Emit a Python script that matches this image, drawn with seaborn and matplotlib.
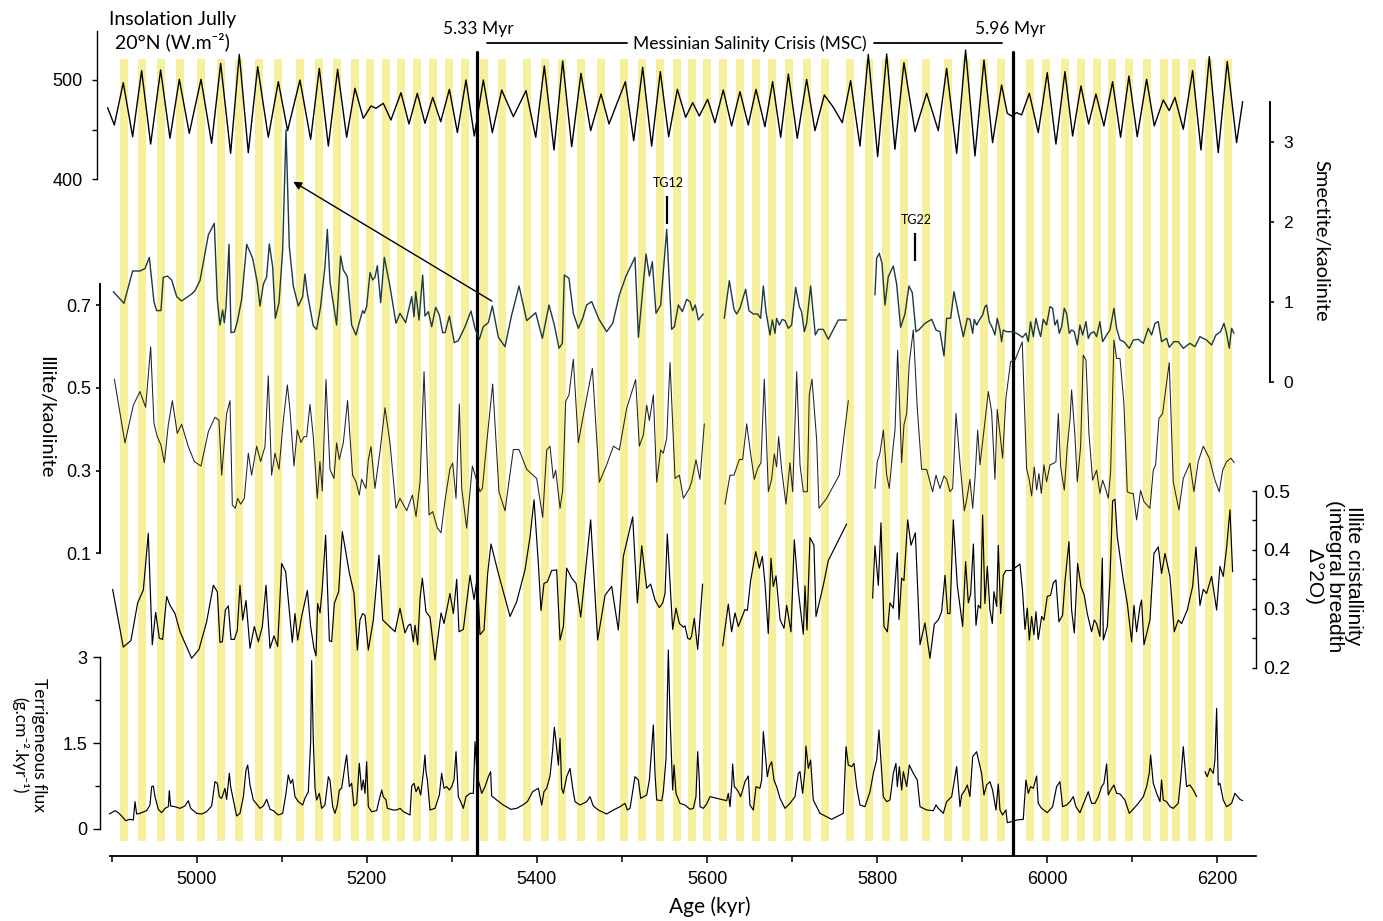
import numpy as np
import pandas as pd
import matplotlib
matplotlib.use("Agg")
import matplotlib.pyplot as plt
from matplotlib.ticker import FixedLocator
from matplotlib.lines import Line2D
import seaborn as sns

nan = np.nan

# ---------------------------------------------------------------- data (ages in kyr)
band_centers = [4914.5, 4935.5, 4957.8, 4980.4, 5005.0, 5028.3, 5049.7, 5073.2, 5095.6, 5121.4,
                5143.8, 5165.0, 5186.3, 5203.7, 5222.2, 5240.4, 5259.0, 5277.8, 5296.6, 5315.4,
                5338.3, 5359.0, 5388.0, 5409.5, 5429.2, 5451.8, 5475.3, 5502.3, 5523.3, 5544.7,
                5564.4, 5582.5, 5600.2, 5619.0, 5638.5, 5657.8, 5676.7, 5696.6, 5717.3, 5738.4,
                5767.8, 5790.6, 5810.1, 5831.3, 5857.2, 5883.0, 5904.2, 5925.4, 5946.0, 5979.4,
                5998.5, 6020.8, 6039.6, 6058.5, 6075.8, 6096.1, 6117.2, 6137.2, 6151.0, 6170.7,
                6190.7, 6212.1]

insol_age = [4895.3, 4903.2, 4913.7, 4924.7, 4935.3, 4945.9, 4957.6, 4968.6, 4979.6, 4991.3,
             5005.1, 5017.6, 5028.2, 5039.9, 5050.1, 5060.7, 5071.7, 5084.2, 5096.0, 5106.9,
             5121.4, 5134.0, 5144.2, 5154.8, 5165.7, 5176.3, 5186.1, 5195.9, 5204.9, 5210.8,
             5219.4, 5228.4, 5240.2, 5249.6, 5259.4, 5268.4, 5277.5, 5286.9, 5297.1, 5306.5,
             5316.6, 5326.4, 5337.0, 5347.6, 5358.6, 5372.3, 5387.2, 5398.6, 5408.7, 5420.1,
             5430.3, 5440.9, 5451.8, 5463.2, 5475.4, 5484.8, 5504.0, 5513.8, 5524.3, 5534.9,
             5545.1, 5554.9, 5565.1, 5574.9, 5583.1, 5590.9, 5600.7, 5609.3, 5619.1, 5628.9,
             5638.7, 5648.5, 5657.6, 5668.1, 5677.1, 5686.6, 5695.6, 5706.1, 5717.1, 5726.9,
             5737.9, 5748.5, 5759.0, 5768.8, 5779.8, 5789.6, 5800.6, 5811.2, 5820.9, 5831.5,
             5844.5, 5858.2, 5871.9, 5881.7, 5893.5, 5904.0, 5915.0, 5925.6, 5935.7, 5946.3,
             5953.0, 5958.1, 5964.0, 5969.8, 5978.9, 5989.4, 6000.0, 6010.2, 6020.8, 6029.8,
             6039.6, 6048.6, 6057.2, 6066.6, 6076.8, 6086.2, 6096.0, 6105.8, 6116.8, 6125.8,
             6136.4, 6143.4, 6150.1, 6159.9, 6170.9, 6180.7, 6190.5, 6201.0, 6211.6, 6222.6,
             6229.7]
insol_val = [472.1, 454.7, 497.3, 442.9, 509.4, 435.5, 510.1, 441.3, 500.7, 446.3,
             500.7, 436.2, 516.8, 426.1, 525.8, 426.8, 513.4, 442.3, 498.3, 449.0,
             500.0, 440.2, 511.7, 433.5, 510.7, 442.3, 491.6, 461.4, 473.8, 471.5,
             476.5, 459.7, 487.2, 455.7, 486.6, 456.4, 482.5, 458.0, 490.6, 447.0,
             500.0, 443.6, 500.0, 447.0, 489.9, 463.1, 489.3, 442.3, 514.1, 429.5,
             519.1, 432.9, 506.7, 449.0, 485.9, 455.7, 498.3, 438.9, 512.8, 433.5,
             508.4, 442.9, 490.6, 462.4, 477.2, 463.7, 480.5, 457.0, 489.9, 453.7,
             488.3, 454.7, 490.6, 453.0, 498.3, 442.3, 506.0, 441.3, 500.7, 449.0,
             484.9, 472.5, 457.0, 499.3, 433.5, 525.8, 422.8, 526.2, 430.2, 517.5,
             448.0, 486.6, 449.0, 511.7, 426.1, 530.2, 423.5, 520.1, 436.9, 495.0,
             466.4, 463.7, 467.1, 464.8, 486.6, 447.0, 507.4, 435.5, 508.4, 443.6,
             494.0, 455.7, 485.9, 453.7, 498.3, 442.3, 504.0, 442.9, 500.7, 453.7,
             479.9, 469.1, 482.5, 450.3, 509.4, 429.5, 523.5, 426.8, 518.5, 436.9,
             478.2]

smect_age = [4902.0, 4914.5, 4924.7, 4933.3, 4939.2, 4944.3, 4949.8, 4952.9, 4958.0, 4960.7,
             4965.5, 4970.6, 4976.5, 4982.3, 4994.1, 4998.0, 5003.9, 5013.7, 5020.7, 5024.3,
             5027.4, 5030.5, 5032.5, 5034.5, 5038.0, 5040.4, 5044.3, 5047.8, 5052.9, 5058.8,
             5065.8, 5071.3, 5074.4, 5078.4, 5082.3, 5085.4, 5089.3, 5092.5, 5096.8, 5101.1,
             5105.0, 5108.9, 5113.6, 5119.5, 5124.6, 5127.3, 5130.1, 5137.1, 5141.0, 5145.7,
             5150.8, 5153.6, 5156.7, 5161.8, 5164.5, 5169.2, 5172.4, 5177.1, 5182.2, 5187.3,
             5192.0, 5195.1, 5197.1, 5199.8, 5203.8, 5206.9, 5209.6, 5212.4, 5216.3, 5220.6,
             5227.3, 5234.3, 5239.0,
             5245.7, 5252.8, 5255.5, 5257.5, 5261.4, 5265.7, 5268.4, 5272.4, 5276.3, 5281.0,
             5285.3, 5289.2, 5292.0, 5297.1, 5302.9, 5307.6, 5315.5, 5322.5, 5327.2, 5332.3,
             5337.0, 5342.9, 5347.6, 5354.7, 5362.5, 5370.3, 5379.0, 5388.0, 5398.6, 5406.4,
             5414.2, 5420.5, 5426.0, 5429.9, 5432.2, 5437.7, 5442.8, 5448.7, 5453.8, 5458.5,
             5464.4, 5473.0, 5482.0, 5489.1, 5496.9, 5504.8, 5515.3, 5519.3, 5528.3, 5532.2,
             5535.7, 5540.0, 5545.5, 5552.6, 5558.4, 5561.6, 5566.3, 5571.0, 5576.1, 5580.0,
             5583.1, 5586.2, 5589.8, 5595.6, nan,
             5620.3, 5626.2, 5631.7, 5634.8, 5638.7, 5645.4, 5649.3, 5654.4, 5659.5, 5663.0,
             5666.2, 5669.3, 5674.0, 5676.8, 5679.9, 5681.8, 5685.0, 5688.5, 5691.7, 5695.6,
             5699.5, 5704.2, 5708.5, 5711.2, 5714.4, 5717.1, 5721.8, 5727.3, 5730.8, 5736.7,
             5742.6, 5754.3, 5764.1, nan,
             5797.4, 5799.4, 5802.5, 5805.7, 5809.2, 5813.1, 5819.0, 5822.9, 5827.6, 5832.7,
             5837.4, 5841.3, 5845.6, 5849.6, 5856.2, 5864.1, 5869.2, 5873.9, 5878.6, 5881.7,
             5886.4, 5890.3, 5895.4, 5901.3, 5906.0, 5909.1, 5912.3, 5914.2, 5917.0, 5920.1,
             5924.0, 5926.7, 5928.7, 5931.8, 5935.7, 5938.5, 5941.2, 5944.4, 5946.3, 5948.3,
             5952.2, 5958.1, 5964.0, 5971.0, 5974.9, 5977.7, 5980.4, 5983.6, 5986.7, 5989.4,
             5992.2, 5995.3, 5999.2, 6003.2, 6006.3, 6009.0, 6011.8, 6014.1, 6016.9, 6020.0,
             6022.7, 6025.9, 6028.6, 6031.8, 6035.3, 6038.4, 6041.6, 6045.5, 6048.2, 6051.0,
             6054.9, 6058.0, 6061.9, 6065.1, 6069.8, 6073.7, 6078.4, 6081.5, 6085.5, 6090.1,
             6096.4, 6101.1, 6107.0, 6112.9, 6118.7, 6122.7, 6126.6, 6130.5, 6134.4, 6140.3,
             6143.4, 6148.9, 6154.0, 6159.9, 6167.7, 6173.6, 6179.5, 6187.3, 6193.2, 6198.3,
             6203.8, 6207.7, 6210.8, 6214.0, 6216.7, 6219.5]
smect_val = [1.130, 0.985, 1.388, 1.388, 1.417, 1.558, 1.006, 0.894, 0.894, 1.309,
             1.325, 1.276, 1.068, 1.014, 1.101, 1.143, 1.268, 1.837, 1.982, 1.026,
             0.714, 0.901, 0.743, 0.943, 1.720, 0.619, 0.627, 0.756, 1.035, 1.720,
             1.546, 1.242, 0.951, 1.222, 1.317, 1.725, 1.442, 0.798, 0.993, 1.650,
             3.146, 1.691, 1.201, 0.951, 1.068, 1.350, 1.109, 0.702, 0.660, 0.943,
             1.442, 1.907, 1.255, 0.901, 0.714, 1.575, 1.400, 1.317, 0.714, 0.590,
             0.777, 0.893, 0.860, 0.943, 1.367, 1.276, 1.309, 1.454, 0.993, 1.558,
             1.193, 0.736, 0.860,
             0.744, 1.068, 0.818, 1.130, 0.777, 1.338, 0.827, 0.881, 0.694, 0.935,
             0.839, 0.619, 0.619, 0.827, 0.494, 0.519, 0.694, 0.889, 0.673, 0.536,
             0.694, 0.744, 0.952, 0.561, 0.444, 0.839, 1.201, 0.769, 0.868, 0.548,
             0.964, 0.714, 0.424, 0.486, 1.338, 1.297, 0.860, 0.673, 0.798, 0.964,
             1.006, 0.785, 0.631, 0.735, 1.089, 1.326, 1.558, 0.561, 1.600, 1.326,
             1.504, 0.860, 0.964, 1.907, 0.660, 0.694, 0.964, 0.881, 1.035, 1.006,
             0.893, 0.964, 0.777, 0.852, nan,
             0.798, 1.267, 0.910, 0.852, 0.923, 1.160, 0.893, 0.852, 0.852, 0.798,
             1.201, 0.881, 0.590, 0.777, 0.611, 0.798, 0.714, 0.785, 0.769, 0.673,
             0.714, 1.184, 0.943, 0.881, 0.631, 0.735, 1.201, 0.590, 0.660, 0.660,
             0.536, 0.777, 0.777, nan,
             1.089, 1.546, 1.608, 1.484, 0.964, 1.317, 1.450, 1.226, 0.685, 0.852,
             1.201, 1.118, 0.631, 0.660, 0.735, 0.785, 0.652, 0.631, 0.328, 0.798,
             0.798, 1.130, 0.860, 0.569, 0.798, 0.785, 0.611, 0.785, 0.714, 0.777,
             0.839, 0.943, 0.964, 0.756, 0.673, 0.590, 0.798, 0.652, 0.507, 0.652,
             0.631, 0.631, 0.611, 0.561, 0.611, 0.507, 0.756, 0.569, 0.798, 0.673,
             0.569, 0.785, 0.714, 0.943, 0.923, 0.714, 0.777, 0.611, 0.694, 0.923,
             0.860, 0.611, 0.652, 0.631, 0.465, 0.714, 0.590, 0.756, 0.548, 0.611,
             0.631, 0.569, 0.756, 0.507, 0.590, 0.652, 0.923, 0.673, 0.527, 0.507,
             0.424, 0.527, 0.536, 0.486, 0.673, 0.590, 0.735, 0.756, 0.507, 0.548,
             0.436, 0.507, 0.507, 0.424, 0.486, 0.444, 0.569, 0.527, 0.465, 0.590,
             0.631, 0.735, 0.611, 0.424, 0.673, 0.611]

illite_age = [4903.2, 4915.7, 4925.5, 4933.3, 4940.0, 4945.9, 4949.8, 4953.7, 4958.0, 4962.0,
              4966.6, 4971.4, 4977.2, 4982.3, 4990.2, 4997.2, 5005.1, 5013.7, 5021.5, 5026.2,
              5029.4, 5035.2, 5039.2, 5041.9, 5045.4, 5048.2, 5051.7, 5056.0, 5060.7, 5064.6,
              5070.5, 5075.2, 5080.3, 5084.2, 5088.1, 5092.1, 5096.8, 5101.9, 5106.6, 5109.7,
              5114.4, 5118.3, 5122.6, 5126.2, 5129.3, 5133.2, 5137.1, 5141.8, 5144.9, 5147.7,
              5152.0, 5156.7, 5161.4, 5164.5, 5167.7, 5172.4, 5177.4, 5183.3, 5187.3, 5191.2,
              5193.9, 5199.0, 5201.8, 5204.9, 5209.6, 5215.5, 5221.4, 5227.3, 5234.3, 5239.0,
              5246.9, 5253.6, 5257.9, 5262.6, 5267.3, 5273.2, 5277.5, 5283.0, 5287.3, 5292.0,
              5297.8, 5301.0, 5304.9, 5308.8, 5311.6, 5317.4, 5324.1, 5328.4, 5333.1, 5335.9,
              5341.7, 5348.0, 5355.4, 5362.5, 5372.3, 5378.9, 5388.0, 5399.7, 5406.8, 5411.5,
              5415.4, 5419.3, 5422.1, 5427.2, 5430.3, 5433.8, 5437.7, 5442.8, 5448.7, 5454.6,
              5465.2, 5473.4, 5482.0, 5489.9, 5496.9, 5505.5, 5516.1, 5520.4, 5525.1, 5529.1,
              5532.2, 5536.9, 5540.8, 5545.5, 5548.6, 5552.6, 5556.5, 5562.4, 5567.5, 5572.2,
              5579.2, 5581.9, 5587.0, 5591.7, 5596.8, nan,
              5621.1, 5627.0, 5631.7, 5638.0, 5641.9, 5646.6, 5651.3, 5655.6, 5659.5, 5663.4,
              5667.3, 5672.1, 5675.9, 5679.1, 5681.8, 5684.2, 5687.7, 5692.8, 5697.5, 5700.7,
              5705.4, 5709.3, 5713.2, 5717.9, 5720.2, 5723.4, 5728.9, 5731.6, 5740.6, 5755.5,
              5766.1, nan,
              5797.4, 5800.2, 5803.3, 5807.3, 5811.2, 5814.3, 5819.0, 5821.0, 5824.1, 5828.8,
              5831.5, 5834.7, 5837.8, 5842.5, 5847.2, 5852.3, 5858.2, 5861.3, 5865.2, 5869.2,
              5873.9, 5878.6, 5881.7, 5885.6, 5888.8, 5892.7, 5897.4, 5902.5, 5905.2, 5909.1,
              5912.3, 5915.0, 5918.2,
              5920.9, 5925.6, 5930.7, 5934.6, 5938.5, 5941.2, 5945.2, 5947.5, 5951.4, 5956.9,
              5962.0, 5966.7, 5970.6, 5975.7, 5978.9, 5981.6, 5984.7, 5987.5, 5990.2, 5993.0,
              5996.1, 5999.2, 6003.2, 6007.9, 6010.2, 6013.0, 6015.7, 6020.0, 6023.5, 6026.7,
              6028.6, 6032.5, 6035.3, 6039.2, 6042.3, 6045.5, 6049.0, 6053.3, 6058.0, 6061.9,
              6065.1, 6069.0, 6071.7, 6074.5, 6078.4, 6081.5, 6085.5, 6090.1, 6094.1, 6098.0,
              6101.1, 6105.0, 6109.7, 6113.7, 6120.7, 6124.6, 6127.4, 6131.3, 6135.6, 6143.4,
              6148.1, 6154.8, 6159.9, 6167.7, 6172.4, 6177.5, 6183.4, 6190.5, 6197.1, 6202.2,
              6206.2, 6210.9, 6216.0, 6219.9]
illite_val = [0.521, 0.367, 0.458, 0.491, 0.453, 0.599, 0.414, 0.382, 0.362, 0.319,
              0.410, 0.469, 0.390, 0.412, 0.358, 0.322, 0.311, 0.394, 0.429, 0.422,
              0.289, 0.438, 0.469, 0.217, 0.209, 0.233, 0.219, 0.233, 0.342, 0.289,
              0.359, 0.322, 0.358, 0.529, 0.289, 0.342, 0.303, 0.422, 0.507, 0.446,
              0.311, 0.398, 0.368, 0.382, 0.382, 0.460, 0.382, 0.233, 0.322, 0.251,
              0.520, 0.303, 0.281, 0.367, 0.327, 0.367, 0.469, 0.289, 0.273, 0.241,
              0.279, 0.257, 0.326, 0.358, 0.257, 0.346, 0.452, 0.366, 0.209, 0.233,
              0.203, 0.241, 0.189, 0.273, 0.539, 0.193, 0.201, 0.161, 0.150, 0.229,
              0.305, 0.318, 0.233, 0.461, 0.257, 0.161, 0.311, 0.281, 0.249, 0.257,
              0.382, 0.509, 0.249, 0.203, 0.351, 0.351, 0.303, 0.281, 0.187, 0.350,
              0.359, 0.281, 0.301, 0.209, 0.253, 0.467, 0.483, 0.569, 0.367, 0.434,
              0.547, 0.272, 0.314, 0.359, 0.350, 0.450, 0.520, 0.359, 0.386, 0.458,
              0.421, 0.483, 0.272, 0.350, 0.342, 0.378, 0.561, 0.281, 0.289, 0.233,
              0.257, 0.273, 0.326, 0.279, 0.413, nan,
              0.219, 0.289, 0.289, 0.327, 0.327, 0.413, 0.340, 0.279, 0.305, 0.319,
              0.521, 0.249, 0.279, 0.340, 0.309, 0.382, 0.303, 0.219, 0.319, 0.249,
              0.539, 0.314, 0.249, 0.249, 0.483, 0.521, 0.374, 0.209, 0.233, 0.289,
              0.469, nan,
              0.257, 0.322, 0.342, 0.398, 0.289, 0.257, 0.362, 0.398, 0.591, 0.319,
              0.410, 0.438, 0.561, 0.640, 0.450, 0.303, 0.303, 0.279, 0.249, 0.289,
              0.257, 0.287, 0.279, 0.249, 0.257, 0.438, 0.319, 0.203, 0.229, 0.279,
              0.209, 0.281, 0.398,
              0.314, 0.398, 0.491, 0.442, 0.279, 0.448, 0.374, 0.330, 0.475, 0.563,
              0.567, 0.591, 0.611, 0.305, 0.277, 0.239, 0.309, 0.253, 0.293, 0.245,
              0.314, 0.273, 0.314, 0.318, 0.322, 0.438, 0.309, 0.253, 0.358, 0.422,
              0.495, 0.386, 0.273, 0.358, 0.579, 0.567, 0.390, 0.277, 0.301, 0.245,
              0.277, 0.253, 0.233, 0.297, 0.615, 0.571, 0.571, 0.462, 0.249, 0.245,
              0.245, 0.181, 0.252, 0.225, 0.209, 0.301, 0.314, 0.426, 0.438, 0.561,
              0.273, 0.205, 0.281, 0.318, 0.249, 0.322, 0.359, 0.330, 0.277, 0.249,
              0.301, 0.322, 0.330, 0.319]

cryst_age = [4901.2, 4913.7, 4922.7, 4930.6, 4937.3, 4943.1, 4947.8, 4951.8, 4956.1, 4960.0,
             4964.7, 4968.6, 4974.5, 4980.4, 4994.1, 5002.7, 5011.7, 5019.6, 5024.3, 5027.4,
             5030.2, 5033.7, 5037.2, 5040.4, 5044.3, 5047.8, 5050.9, 5054.1, 5058.0, 5062.7,
             5067.8, 5072.5, 5077.2, 5081.5, 5086.2, 5090.9, 5095.2, 5099.9, 5104.6, 5112.4,
             5115.6, 5118.7, 5123.4, 5130.1, 5134.0, 5137.9, 5140.3, 5142.2, 5145.0, 5147.7,
             5151.6, 5156.0, 5158.7, 5161.8, 5166.9, 5171.2, 5179.5, 5185.0, 5188.9, 5192.0,
             5195.1, 5197.9, 5201.8, 5207.7, 5214.3, 5218.7, 5233.2, 5239.0,
             5244.9, 5248.9, 5251.6, 5254.7, 5256.7, 5259.8, 5262.6, 5265.3, 5269.6, 5274.3,
             5280.2, 5287.3, 5290.8, 5297.8, 5301.8, 5305.7, 5308.4, 5313.5, 5321.4, 5326.1,
             5330.0, 5333.1, 5337.8, 5342.1, 5346.0, 5354.7, 5360.5, 5368.4, 5376.2, 5386.0,
             5391.9, 5396.6, 5401.7, 5404.8, 5408.3, 5412.3, 5417.4, 5423.2, 5427.2, 5431.1,
             5435.0, 5440.9, 5446.0, 5451.5, 5456.6, 5463.2, 5471.4, 5480.1, 5487.9, 5495.7,
             5501.6, 5512.6, 5518.1, 5523.2, 5529.1, 5533.7, 5538.8, 5543.9, 5547.9, 5550.6,
             5553.3, 5559.6, 5563.5, 5567.5, 5572.2, 5574.1, 5577.3, 5580.0,
             5581.9, 5585.0, 5589.0, 5594.8, nan,
             5618.4, 5625.0, 5628.9, 5632.9, 5636.8, 5641.9, 5644.6, 5647.4, 5651.3, 5657.2,
             5661.5, 5665.0, 5668.1, 5672.0, 5675.2, 5677.9, 5681.1, 5685.8, 5690.5, 5693.6,
             5698.7, 5702.6, 5707.3, 5713.2, 5715.2, 5717.5, 5721.0, 5725.7, 5728.1, 5736.7,
             5742.6, 5764.1, nan,
             5794.7, 5797.4, 5801.4, 5804.5, 5808.0, 5812.0, 5815.1, 5819.0, 5823.7, 5825.7,
             5828.8, 5831.5, 5835.9, 5839.8, 5844.9, 5850.4, 5856.2, 5862.1, 5867.2, 5871.9,
             5875.8, 5879.8, 5882.9, 5885.6, 5889.5, 5894.2, 5900.5, 5904.0, 5907.2, 5909.9,
             5913.1,
             5916.2, 5918.9, 5921.6, 5924.0, 5926.7, 5929.5, 5932.6, 5935.4, 5937.3, 5940.5,
             5942.4, 5945.2, 5948.3, 5951.4, 5958.1, 5967.9, 5971.0, 5973.8, 5976.5, 5978.9,
             5981.6, 5984.3, 5986.7, 5989.4, 5993.4, 5996.1, 6000.0, 6003.9, 6007.1, 6010.2,
             6013.7, 6018.0, 6020.8, 6025.5, 6028.6, 6031.8, 6035.7, 6039.6, 6043.5, 6047.0,
             6052.1, 6055.3, 6058.0, 6061.9, 6064.7, 6065.9, 6070.6, 6073.7, 6076.8, 6079.6,
             6082.3, 6089.4, 6094.1, 6099.2, 6101.9, 6105.0, 6109.0, 6110.9, 6113.7, 6120.7,
             6125.4, 6130.5, 6134.4, 6138.4, 6144.2, 6149.3, 6154.0, 6157.9, 6164.6, 6170.9,
             6174.8, 6179.5, 6183.4, 6187.3, 6193.2, 6199.1, 6203.0, 6206.9, 6210.8, 6214.8,
             6217.9]
cryst_val = [0.333, 0.235, 0.246, 0.310, 0.332, 0.428, 0.239, 0.294, 0.250, 0.248,
             0.321, 0.306, 0.292, 0.261, 0.216, 0.231, 0.278, 0.340, 0.329, 0.243,
             0.244, 0.298, 0.305, 0.248, 0.248, 0.264, 0.340, 0.281, 0.314, 0.233,
             0.270, 0.244, 0.270, 0.340, 0.233, 0.254, 0.236, 0.377, 0.363, 0.243,
             0.292, 0.247, 0.287, 0.331, 0.270, 0.233, 0.220, 0.309, 0.293, 0.336,
             0.425, 0.246, 0.244, 0.309, 0.329, 0.431, 0.361, 0.326, 0.230, 0.281,
             0.292, 0.289, 0.230, 0.281, 0.391, 0.281, 0.261, 0.301,
             0.259, 0.272, 0.274, 0.244, 0.272, 0.239, 0.318, 0.352, 0.295, 0.286,
             0.213, 0.293, 0.275, 0.326, 0.292, 0.350, 0.261, 0.265, 0.357, 0.316,
             0.355, 0.256, 0.264, 0.360, 0.410, 0.360, 0.329, 0.287, 0.312, 0.366,
             0.422, 0.485, 0.377, 0.297, 0.343, 0.346, 0.365, 0.366, 0.247, 0.270,
             0.369, 0.352, 0.343, 0.286, 0.357, 0.451, 0.247, 0.323, 0.338, 0.264,
             0.389, 0.456, 0.310, 0.407, 0.335, 0.342, 0.315, 0.302, 0.310, 0.326,
             0.427, 0.265, 0.301, 0.275, 0.269, 0.271, 0.250, 0.248,
             0.254, 0.284, 0.231, 0.342, nan,
             0.237, 0.308, 0.261, 0.293, 0.270, 0.289, 0.299, 0.297, 0.348, 0.397,
             0.369, 0.389, 0.344, 0.258, 0.386, 0.338, 0.356, 0.282, 0.267, 0.306,
             0.261, 0.417, 0.331, 0.257, 0.339, 0.264, 0.421, 0.408, 0.287, 0.340,
             0.382, 0.444, nan,
             0.318, 0.407, 0.340, 0.446, 0.270, 0.261, 0.310, 0.301, 0.395, 0.282,
             0.352, 0.348, 0.451, 0.408, 0.429, 0.239, 0.276, 0.216, 0.274, 0.281,
             0.295, 0.357, 0.292, 0.292, 0.451, 0.340, 0.270, 0.380, 0.310, 0.325,
             0.410,
             0.272, 0.306, 0.301, 0.459, 0.309, 0.372, 0.298, 0.275, 0.329, 0.304,
             0.408, 0.292, 0.357, 0.365, 0.365, 0.376, 0.329, 0.265, 0.301, 0.247,
             0.287, 0.256, 0.295, 0.248, 0.287, 0.281, 0.321, 0.323, 0.344, 0.349,
             0.278, 0.289, 0.346, 0.414, 0.298, 0.259, 0.377, 0.338, 0.323, 0.292,
             0.261, 0.281, 0.275, 0.253, 0.386, 0.247, 0.270, 0.349, 0.483, 0.486,
             0.422, 0.349, 0.309, 0.244, 0.306, 0.261, 0.304, 0.315, 0.239, 0.281,
             0.394, 0.405, 0.360, 0.394, 0.355, 0.261, 0.281, 0.275, 0.298, 0.338,
             0.405, 0.306, 0.333, 0.326, 0.355, 0.298, 0.372, 0.355, 0.403, 0.468,
             0.363]

flux_age = [4897.3, 4903.9, 4907.9, 4911.8, 4916.5, 4921.6, 4925.5, 4927.5, 4929.4, 4933.3,
            4941.2, 4945.1, 4947.1, 4949.0, 4951.0, 4954.9, 4958.8, 4962.8, 4966.7, 4967.8,
            4969.4, 4974.5, 4980.4, 4986.2, 4990.2, 4992.9, 5000.0, 5005.9, 5011.7, 5017.6,
            5021.5, 5024.3, 5026.6, 5029.4, 5033.3, 5035.2, 5038.4, 5039.9, 5043.1, 5047.0,
            5050.9, 5054.9, 5058.0, 5060.0, 5062.7, 5066.6, 5070.5, 5074.4, 5078.4, 5082.3,
            5086.2, 5090.1, 5096.0, 5101.1, 5105.0, 5107.7, 5110.5, 5112.8, 5115.6, 5119.5,
            5124.6, 5127.3, 5131.3, 5134.0, 5135.2, 5137.1, 5139.1, 5141.0, 5144.2, 5146.9,
            5150.8, 5154.8, 5156.7, 5159.9, 5162.6, 5165.4, 5167.7, 5170.4, 5174.4, 5176.3,
            5179.5, 5182.2, 5184.9, 5188.1, 5191.2, 5193.9, 5195.9, 5197.9, 5199.8, 5201.8,
            5205.7, 5211.6, 5215.5, 5217.5, 5219.4, 5222.6, 5224.2, 5231.2,
            5235.1, 5239.1, 5243.0, 5250.8, 5252.8, 5255.5, 5257.9, 5260.6, 5263.4, 5266.5,
            5268.4, 5269.6, 5271.2, 5274.3, 5280.2, 5285.3, 5288.0, 5290.8, 5293.9, 5297.1,
            5299.8, 5302.5, 5304.9, 5307.6, 5310.4, 5313.5, 5316.6, 5321.4, 5325.3, 5327.2,
            5329.2, 5331.1, 5335.1, 5339.0, 5342.9, 5345.6, 5346.8, 5352.7, 5360.5, 5369.2,
            5376.2, 5383.3, 5388.8, 5395.0, 5401.7, 5405.6, 5408.3, 5411.5, 5415.4, 5418.5,
            5420.5, 5422.5, 5425.2, 5427.2, 5429.1, 5431.1, 5435.0, 5438.9, 5442.1, 5444.8,
            5450.7, 5458.5, 5462.4, 5466.3, 5472.2, 5482.0, 5489.9, 5497.7, 5503.6, 5506.3,
            5509.5, 5515.3, 5519.3, 5522.0, 5529.1, 5532.2, 5536.9, 5538.8, 5540.8, 5546.7,
            5548.6, 5551.8, 5554.5, 5556.5, 5559.6, 5561.2, 5563.5, 5568.2,
            5574.1, 5580.0, 5583.9, 5587.0, 5589.0, 5590.9, 5591.7, 5595.6, 5599.6, 5603.5,
            5623.1, 5625.0, 5627.0, 5628.9, 5630.1, 5632.1, 5634.0, 5636.8, 5639.5, 5641.9,
            5644.6, 5648.5, 5650.5, 5654.4, 5657.6, 5662.2, 5664.2, 5666.2, 5668.1, 5670.9,
            5673.2, 5676.0, 5678.7, 5681.8, 5685.8, 5691.6, 5697.5, 5703.4, 5707.3, 5709.3,
            5712.4, 5715.2, 5716.3, 5719.1, 5721.8, 5724.9, 5732.8, 5746.5, 5760.2, 5763.4,
            5766.1, 5770.0, 5772.8, 5775.9, 5779.8, 5785.7, 5791.6, 5795.5, 5799.4, 5802.1,
            5804.1, 5807.2, 5811.2, 5815.1, 5819.0, 5822.1, 5823.7, 5826.1, 5828.8, 5830.8,
            5834.7, 5837.8, 5842.5, 5847.2, 5850.4, 5858.2, 5866.0, 5869.2, 5871.9, 5877.8,
            5881.7, 5887.6, 5893.5, 5897.4, 5899.3, 5903.3, 5906.0, 5909.1, 5912.3,
            5916.9, 5920.1, 5922.8, 5925.6, 5928.7, 5932.6, 5935.7, 5939.7, 5942.4, 5944.4,
            5947.5, 5951.4, 5953.0, 5958.1, 5964.0, 5971.8, 5974.9, 5977.7, 5980.4, 5983.6,
            5987.5, 5989.4, 5993.4, 6000.0, 6006.3, 6011.0, 6014.9, 6018.0, 6022.7, 6026.7,
            6030.6, 6033.7, 6038.4, 6044.3, 6048.2, 6052.1, 6056.1, 6060.0, 6063.9, 6066.6,
            6069.8, 6071.7, 6074.5, 6078.4, 6081.5, 6085.5, 6091.3, 6096.4, 6101.9, 6107.0,
            6112.9, 6116.8, 6119.9, 6121.5, 6124.6, 6128.6, 6132.5, 6134.4, 6136.4, 6140.3,
            6144.2, 6148.1, 6154.0, 6156.8, 6159.9, 6163.8, 6167.7, 6171.7, 6175.6, nan,
            6185.4, 6188.1, 6191.3, 6195.2, 6197.1, 6199.1, 6201.0, 6203.0, 6206.9, 6210.8,
            6216.7, 6220.6, 6226.5, 6229.7]
flux_val = [0.262, 0.320, 0.285, 0.227, 0.146, 0.169, 0.157, 0.478, 0.262, 0.274,
            0.320, 0.419, 0.740, 0.751, 0.565, 0.344, 0.285, 0.361, 0.390, 0.670,
            0.402, 0.390, 0.361, 0.402, 0.495, 0.361, 0.274, 0.262, 0.303, 0.402,
            0.827, 0.798, 0.565, 0.536, 0.711, 0.518, 0.973, 0.740, 0.507, 0.227,
            0.274, 0.565, 1.031, 1.118, 0.769, 0.507, 0.437, 0.361, 0.402, 0.518,
            0.344, 0.320, 0.245, 0.274, 0.623, 0.944, 0.798, 0.868, 0.565, 0.478,
            0.419, 0.536, 0.652, 1.526, 2.941, 1.555, 0.711, 0.507, 0.623, 0.361,
            0.419, 0.914, 0.856, 0.390, 0.274, 0.419, 0.681, 0.711, 1.118, 1.293,
            0.740, 0.798, 0.402, 0.448, 1.147, 0.681, 0.856, 0.623, 1.176, 0.390,
            0.303, 0.320, 0.565, 0.681, 0.565, 0.507, 0.361, 0.332,
            0.332, 0.361, 0.303, 0.245, 0.751, 0.798, 0.652, 0.740, 0.594, 0.984,
            1.293, 1.002, 0.856, 0.332, 0.361, 0.594, 0.973, 0.711, 0.740, 0.681,
            0.740, 0.856, 1.351, 0.565, 0.478, 0.361, 0.565, 0.623, 0.623, 1.526,
            1.060, 0.856, 0.623, 0.740, 0.914, 1.002, 0.577, 0.507, 0.419, 0.344,
            0.361, 0.419, 0.478, 0.652, 0.711, 0.419, 0.652, 0.711, 0.926, 1.380,
            1.776, 1.526, 1.118, 1.584, 0.711, 0.623, 0.914, 1.060, 0.711, 0.478,
            0.419, 0.478, 0.565, 0.402, 0.332, 0.262, 0.332, 0.390, 0.448, 0.332,
            0.361, 0.914, 0.856, 0.536, 0.594, 0.856, 1.817, 0.973, 0.507, 0.495,
            0.652, 1.235, 3.128, 1.963, 0.681, 1.118, 0.623, 0.448,
            0.419, 0.344, 0.361, 0.565, 1.351, 0.856, 0.390, 0.361, 0.437, 0.565,
            0.495, 0.623, 0.390, 0.740, 1.136, 0.740, 0.711, 0.652, 0.565, 0.681,
            0.827, 0.926, 0.419, 0.332, 0.740, 0.711, 0.856, 1.701, 1.380, 0.914,
            1.089, 1.176, 0.856, 0.740, 0.536, 0.361, 0.448, 0.565, 0.973, 1.002,
            0.623, 1.031, 1.450, 1.060, 1.206, 0.507, 0.274, 0.169, 0.274, 1.439,
            1.118, 1.089, 1.147, 0.740, 0.419, 0.390, 0.652, 0.973, 1.206, 1.730,
            1.264, 0.565, 0.478, 0.507, 0.973, 1.147, 0.740, 1.089, 0.681, 1.002,
            0.740, 1.118, 0.973, 0.856, 0.390, 0.332, 0.320, 0.419, 0.361, 0.274,
            0.478, 0.565, 1.089, 0.390, 0.594, 0.681, 0.769, 0.565, 1.264,
            1.351, 1.147, 0.973, 0.594, 0.769, 0.827, 0.681, 0.332, 0.786, 0.332,
            0.245, 0.332, 0.111, 0.128, 0.157, 0.169, 0.856, 0.623, 0.740, 0.711,
            0.926, 0.448, 0.361, 0.285, 0.390, 0.740, 0.827, 0.390, 0.419, 0.478,
            0.565, 0.390, 0.285, 0.507, 0.652, 0.448, 0.448, 0.565, 0.740, 0.798,
            1.136, 0.594, 0.681, 0.769, 0.623, 0.612, 0.507, 0.274, 0.361, 0.448,
            0.565, 0.740, 0.973, 1.293, 0.798, 0.623, 0.478, 0.856, 0.507, 0.478,
            0.390, 0.361, 0.448, 0.856, 1.439, 0.740, 0.769, 0.681, 0.565, nan,
            1.002, 0.914, 1.060, 0.973, 1.206, 2.108, 0.769, 0.798, 0.507, 0.390,
            0.448, 0.623, 0.518, 0.495]

msc_bounds = [5330, 5960]          # kyr
tg_markers = [("TG12", 5552.6), ("TG22", 5844.8)]

# ---------------------------------------------------------------- style
W, H = 1383, 921
HUMANIST = ["Lato", "DejaVu Sans"]
GROTESK = ["Liberation Sans", "DejaVu Sans"]
YELLOW = "#F6EF9C"

sns.set_style("ticks", {"axes.edgecolor": "black", "xtick.color": "black",
                        "ytick.color": "black", "text.color": "black",
                        "axes.labelcolor": "black"})
plt.rcParams["font.family"] = GROTESK

fig = plt.figure(figsize=(W / 100, H / 100), dpi=100)


def fx(px):
    return px / W


def fy(py):
    return 1 - py / H


AX_L, AX_R, AX_T, AX_B = 110, 1256, 30, 856
RECT = [fx(AX_L), fy(AX_B), (AX_R - AX_L) / W, (AX_B - AX_T) / H]
XLIM = (4898.1, 6245.4)


def frame(ages, vals):
    a = np.asarray(ages, float)
    v = np.asarray(vals, float)
    seg = np.cumsum(np.isnan(v))
    return pd.DataFrame({"age": a, "val": v, "seg": seg}).dropna()


# ---------------------------------------------------------------- base axis: bands, age axis
base = fig.add_axes(RECT)
base.set_xlim(*XLIM)
base.set_ylim(0, 1)
for c in band_centers:
    base.axvspan(c - 4.7, c + 4.7, ymin=0.018, ymax=0.965, color=YELLOW, lw=0, zorder=0)
for b in msc_bounds:
    base.axvline(b, ymin=0, ymax=0.973, color="black", lw=2.3, zorder=5)
for s in ("left", "right", "top"):
    base.spines[s].set_visible(False)
base.spines["bottom"].set_linewidth(1.3)
base.set_yticks([])
base.set_xticks(range(5000, 6201, 200))
base.xaxis.set_minor_locator(FixedLocator(list(range(4900, 6200, 200))))
base.tick_params(axis="x", which="major", length=5, width=1.1, labelsize=13, pad=6)
base.tick_params(axis="x", which="minor", length=4, width=1.1)
fig.text(fx(710), fy(907), "Age (kyr)", fontsize=15, ha="center", va="center",
         family=HUMANIST)


def layer(side, ylim, bounds, outward, spine_lw=1.0):
    a = fig.add_axes(RECT)
    a.patch.set_visible(False)
    for s in a.spines.values():
        s.set_visible(False)
    sp = a.spines[side]
    sp.set_visible(True)
    sp.set_bounds(*bounds)
    sp.set_position(("outward", outward))
    sp.set_linewidth(spine_lw)
    if side == "right":
        a.yaxis.tick_right()
    else:
        a.yaxis.tick_left()
    a.tick_params(axis="x", which="both", bottom=False, labelbottom=False)
    a.grid(False)
    return a, ylim


def draw(a, ylim, ages, vals, color, lw):
    sns.lineplot(data=frame(ages, vals), x="age", y="val", units="seg", estimator=None,
                 sort=False, ax=a, color=color, linewidth=lw, legend=False)
    for ln in a.lines:
        ln.set_clip_on(False)
    a.set_xlim(*XLIM)
    a.set_ylim(*ylim)
    a.set_xlabel("")
    a.set_ylabel("")


# insolation (left, top)
ins, ylim = layer("left", (-281.5, 550.35), (400, 549.5), 9.4)
draw(ins, ylim, insol_age, insol_val, "black", 1.0)
ins.set_yticks([400, 450, 500])
ins.set_yticklabels(["400", "", "500"])
ins.tick_params(axis="y", length=3.6, width=1.0, labelsize=13, pad=6.5)

# smectite / kaolinite (right)
sme, ylim = layer("right", (-5.907, 4.393), (0, 3.5), 10.1, 1.4)
draw(sme, ylim, smect_age, smect_val, "#1d3a40", 1.0)
sme.set_yticks([0, 1, 2, 3])
sme.tick_params(axis="y", length=3, width=1.2, labelsize=12.5, pad=6.5)

# illite / kaolinite (left)
ill, ylim = layer("left", (-0.6309, 1.3643), (0.1, 0.75), 7.2, 1.4)
draw(ill, ylim, illite_age, illite_val, "#222222", 0.75)
ill.set_yticks([0.1, 0.3, 0.5, 0.7])
ill.set_yticklabels(["0.1", "0.3", "0.5", "0.7"])
ill.tick_params(axis="y", length=2.6, width=1.2, labelsize=13, pad=3.6)

# illite crystallinity (right, ticks inward)
cry, ylim = layer("right", (-0.1197, 1.2827), (0.2, 0.5), 0, 1.0)
draw(cry, ylim, cryst_age, cryst_val, "black", 0.85)
cry.set_yticks([0.2, 0.3, 0.4, 0.5])
cry.set_yticklabels(["0.2", "0.3", "0.4", "0.5"])
cry.yaxis.set_minor_locator(FixedLocator([0.25, 0.35, 0.45]))
cry.tick_params(axis="y", which="both", direction="in", length=3.1, width=1.0,
                labelsize=14, pad=5)

# terrigenous flux (left, bottom)
flx, ylim = layer("left", (-0.4718, 13.961), (0, 3), 7.2, 1.0)
draw(flx, ylim, flux_age, flux_val, "black", 0.85)
flx.set_yticks([0, 1.5, 3])
flx.set_yticklabels(["0", "1.5", "3"])
flx.yaxis.set_minor_locator(FixedLocator([0.75, 2.25]))
flx.tick_params(axis="y", which="major", length=4.8, width=1.0, labelsize=13, pad=4.5)
flx.tick_params(axis="y", which="minor", length=3.6, width=1.0)

# TG event markers on the smectite scale
for (name, age), (y0, y1, yt) in zip(tg_markers, [(1.974, 2.323, 2.485), (1.512, 1.862, 2.024)]):
    sme.plot([age, age], [y0, y1], color="black", lw=1.6, solid_capstyle="butt")
    sme.text(age + 1.5, yt, name, fontsize=9, ha="center", va="center", family=HUMANIST)

# ---------------------------------------------------------------- titles & annotations
fig.text(fx(172.5), fy(19), "Insolation Jully", fontsize=14, ha="center", va="center",
         family=HUMANIST)
fig.text(fx(172), fy(42), "20°N (W.m⁻²)", fontsize=14, ha="center", va="center",
         family=HUMANIST)
fig.text(fx(46), fy(417), "Illite/kaolinite", fontsize=14.5, rotation=-90,
         ha="center", va="center", family=HUMANIST)
fig.text(fx(1321), fy(241), "Smectite/kaolinite", fontsize=14.5, rotation=-90,
         ha="center", va="center", family=HUMANIST)
fig.text(fx(29), fy(745), "Terrigeneous flux\n(g.cm⁻².kyr⁻¹)", fontsize=12.5,
         rotation=-90, ha="center", va="center", multialignment="center",
         family=HUMANIST, linespacing=1.25)
fig.text(fx(1334), fy(576), "Illite cristallinity\n(integral breadth\nΔ°2O)",
         fontsize=15, rotation=-90, ha="center", va="center", multialignment="center",
         linespacing=1.05)

fig.text(fx(478.5), fy(29), "5.33 Myr", fontsize=12.5, ha="center", va="center",
         family=HUMANIST)
fig.text(fx(1010), fy(29), "5.96 Myr", fontsize=12.5, ha="center", va="center",
         family=HUMANIST)
fig.text(fx(749.5), fy(44), "Messinian Salinity Crisis (MSC)", fontsize=12.5,
         ha="center", va="center", family=HUMANIST)
for x0, x1 in [(487, 627), (874, 1002)]:
    fig.add_artist(Line2D([fx(x0), fx(x1)], [fy(43.5), fy(43.5)], color="black", lw=1.3))

fig.add_artist(plt.Annotation("", xy=(fx(293.3), fy(181.7)), xytext=(fx(491.7), fy(301)),
                              xycoords="figure fraction", textcoords="figure fraction",
                              arrowprops=dict(arrowstyle="-|>", color="black", lw=1.0,
                                              mutation_scale=12, shrinkA=0, shrinkB=0)))

fig.savefig("out.png", dpi=100)
